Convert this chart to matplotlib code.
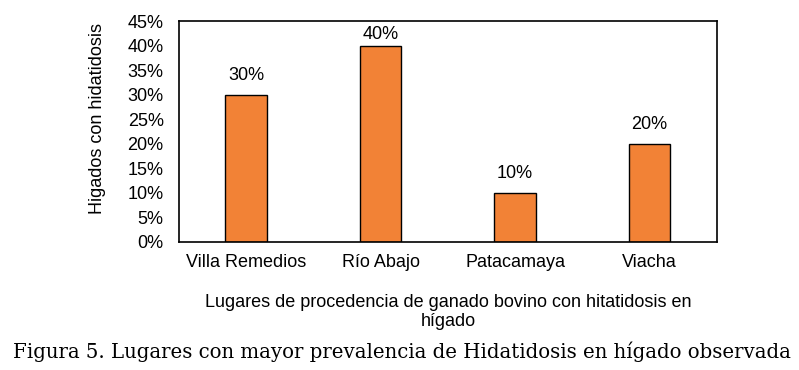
import numpy as np
import matplotlib.pyplot as plt
from matplotlib.ticker import FuncFormatter

lugares = ['Villa Remedios', 'Río Abajo', 'Patacamaya', 'Viacha']
prevalencia = [30, 40, 10, 20]
y_ticks = [0, 5, 10, 15, 20, 25, 30, 35, 40, 45]

plt.rcParams['font.family'] = ['Liberation Sans', 'DejaVu Sans']

fig = plt.figure(figsize=(7.99, 3.70), dpi=100)
ax = fig.add_axes([0.224, 0.346, 0.673, 0.597])

x = np.arange(len(lugares))
ax.bar(x, prevalencia, width=0.31, color='#F28236', edgecolor='black', linewidth=1.0)

# etiquetas sobre las barras (Excel las baja si no caben)
for xi, v in zip(x, prevalencia):
    ax.text(xi, min(v + 4.0, 42.3), '%d%%' % v, ha='center', va='center', fontsize=13)

ax.set_xlim(-0.5, 3.5)
ax.set_ylim(0, 45)
ax.set_yticks(y_ticks)
ax.yaxis.set_major_formatter(FuncFormatter(lambda v, p: '%d%%' % v))
ax.set_xticks(x)
ax.set_xticklabels(lugares)
ax.tick_params(axis='both', length=0, labelsize=13)
ax.tick_params(axis='y', pad=11)
ax.tick_params(axis='x', pad=9)
for s in ax.spines.values():
    s.set_linewidth(1.2)

ax.set_ylabel('Higados con hidatidosis', fontsize=13)
ax.yaxis.set_label_coords(-0.136, 0.56)
ax.set_xlabel('Lugares de procedencia de ganado bovino con hitatidosis en\nhígado',
              fontsize=13, labelpad=16, linespacing=1.2)

fig.text(0.503, 0.048, 'Figura 5. Lugares con mayor prevalencia de Hidatidosis en hígado observada',
         ha='center', va='center', fontsize=14.2, family=['DejaVu Serif'])

fig.savefig('out.png', dpi=100)
